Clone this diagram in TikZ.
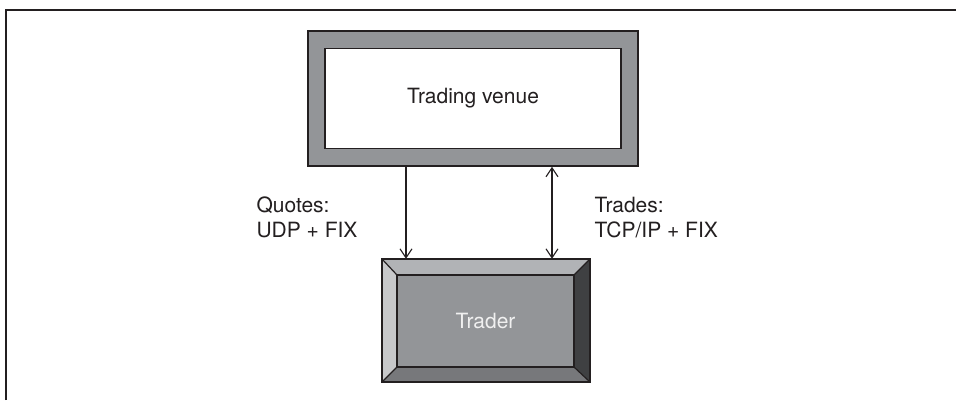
\documentclass[tikz,border=0pt]{standalone}
\usepackage{fontspec}
\setmainfont{TeX Gyre Heros}
\usepackage{tikz}
\usetikzlibrary{arrows.meta, positioning, calc}
\definecolor{ink}{HTML}{231F20}
\definecolor{frame_grey}{HTML}{939598}
\definecolor{bevel_top}{HTML}{B1B3B6}
\definecolor{bevel_left}{HTML}{C7C8CA}
\definecolor{bevel_right}{HTML}{3F4042}
\definecolor{bevel_bottom}{HTML}{77787B}
\tikzset{
  label_font/.style = {font=\fontsize{21}{25}\selectfont},
  outline/.style = {draw=ink, line width=1.6pt},
  venue_outer/.style = {outline, fill=frame_grey, minimum width=330, minimum height=135},
  venue_inner/.style = {outline, fill=white, minimum width=296, minimum height=100, label_font, text=ink},
  trader_box/.style = {minimum width=208, minimum height=123, label_font, text=white!94!black},
  side_text/.style = {label_font, text=ink, align=left, anchor=base west},
  link/.style = {draw=ink, line width=1.1pt},
  >={Straight Barb[length=9pt, width=12pt, line width=1.1pt]}
}
\begin{document}
\begin{tikzpicture}[x=1pt, y=-1pt]
        \useasboundingbox (0,0) rectangle (956,400);

        % Outer frame
        \draw[ink, line width=2pt] (5.8,400) -- (5.8,9.8) -- (956,9.8);

        % Trading venue
        \node[venue_outer] (venue_frame) at (473,98.5) {};
        \node[venue_inner] (venue) at (venue_frame.center) {Trading venue};

        % Trader, with bevelled edges
        \node[trader_box] (trader) at (486,320.5) {};
        \coordinate (t_nw) at ($(trader.north west)+(15,16)$);
        \coordinate (t_ne) at ($(trader.north east)+(-16,16)$);
        \coordinate (t_sw) at ($(trader.south west)+(15,-15)$);
        \coordinate (t_se) at ($(trader.south east)+(-16,-15)$);
        \fill[bevel_top] (trader.north west) -- (trader.north east) -- (t_ne) -- (t_nw) -- cycle;
        \fill[bevel_left] (trader.north west) -- (t_nw) -- (t_sw) -- (trader.south west) -- cycle;
        \fill[bevel_right] (trader.north east) -- (trader.south east) -- (t_se) -- (t_ne) -- cycle;
        \fill[bevel_bottom] (trader.south west) -- (t_sw) -- (t_se) -- (trader.south east) -- cycle;
        \draw[outline, fill=frame_grey] (t_nw) rectangle (t_se);
        \draw[ink, line width=1.2pt] (trader.north west)--(t_nw) (trader.north east)--(t_ne)
            (trader.south west)--(t_sw) (trader.south east)--(t_se);
        \draw[outline] (trader.north west) rectangle (trader.south east);
        \node[label_font, text=white!94!black] (trader_label) at ($(t_nw)!0.5!(t_se)$) {Trader};

        % Arrows and labels
        \draw[link, ->] ([xshift=-67]venue_frame.south) -- ([xshift=-67]venue_frame.south |- trader.north);
        \draw[link, <->] ([xshift=79]venue_frame.south) -- ([xshift=79]venue_frame.south |- trader.north);

        \node[side_text] (quotes) at (253,237) {Quotes:\\UDP + FIX};
        \node[side_text] (trades) at (591,237) {Trades:\\TCP/IP + FIX};
\end{tikzpicture}
\end{document}
